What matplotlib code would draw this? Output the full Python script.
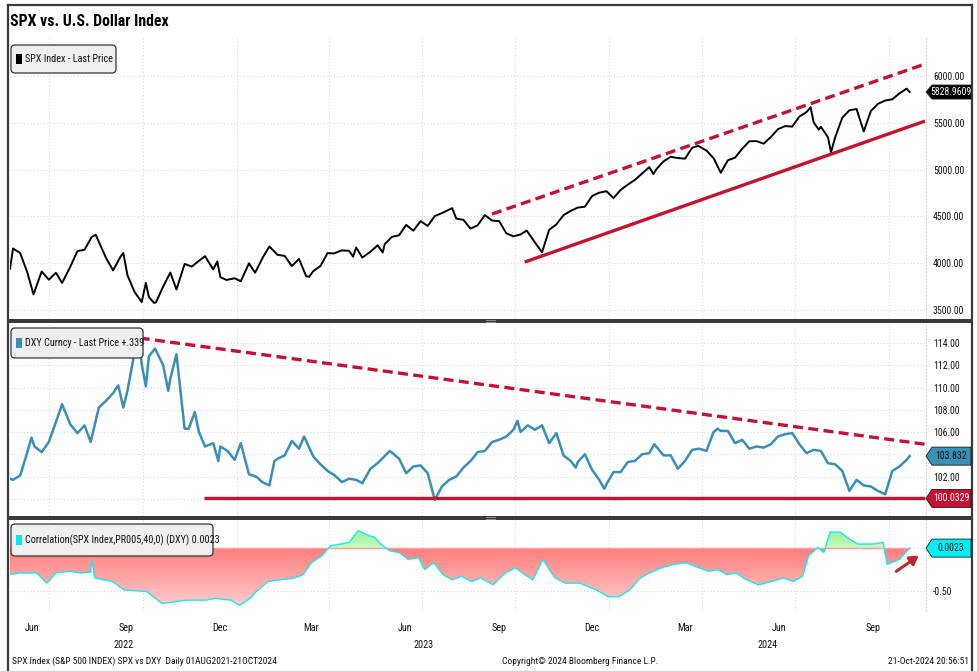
import numpy as np
import matplotlib
matplotlib.use("Agg")
import matplotlib.pyplot as plt
import matplotlib.dates as mdates
from matplotlib import font_manager as fm
from matplotlib.patches import Polygon, FancyBboxPatch, Rectangle, FancyArrowPatch
from matplotlib.path import Path
from matplotlib.lines import Line2D
from matplotlib.colors import LinearSegmentedColormap
from matplotlib.transforms import IdentityTransform, blended_transform_factory

# ---------------------------------------------------------------- data
spx_dates = [
    "2022-05-24", "2022-05-27", "2022-06-03", "2022-06-10", "2022-06-16", "2022-06-24",
    "2022-07-01", "2022-07-08", "2022-07-14", "2022-07-22", "2022-07-29", "2022-08-05",
    "2022-08-12", "2022-08-16", "2022-08-19", "2022-08-26", "2022-09-02", "2022-09-09",
    "2022-09-12", "2022-09-16", "2022-09-23", "2022-09-30", "2022-10-04", "2022-10-07",
    "2022-10-12", "2022-10-14", "2022-10-21", "2022-10-28", "2022-11-03", "2022-11-11",
    "2022-11-18", "2022-11-25", "2022-12-01", "2022-12-09", "2022-12-13", "2022-12-16",
    "2022-12-22", "2022-12-30", "2023-01-05", "2023-01-13", "2023-01-19", "2023-01-27",
    "2023-02-02", "2023-02-10", "2023-02-17", "2023-02-24", "2023-03-03", "2023-03-10",
    "2023-03-13", "2023-03-17", "2023-03-24", "2023-03-31", "2023-04-06", "2023-04-14",
    "2023-04-21", "2023-04-25", "2023-04-28", "2023-05-04", "2023-05-12", "2023-05-19",
    "2023-05-24", "2023-05-26", "2023-06-02", "2023-06-09", "2023-06-16", "2023-06-23",
    "2023-06-30", "2023-07-07", "2023-07-14", "2023-07-21", "2023-07-31", "2023-08-04",
    "2023-08-11", "2023-08-18", "2023-08-25", "2023-09-01", "2023-09-08", "2023-09-15",
    "2023-09-22", "2023-09-29", "2023-10-06", "2023-10-12", "2023-10-20", "2023-10-27",
    "2023-11-03", "2023-11-10", "2023-11-17", "2023-11-24", "2023-12-01", "2023-12-08",
    "2023-12-15", "2023-12-22", "2023-12-29", "2024-01-05", "2024-01-12", "2024-01-19",
    "2024-01-26", "2024-02-02", "2024-02-09", "2024-02-13", "2024-02-16", "2024-02-23",
    "2024-03-01", "2024-03-08", "2024-03-15", "2024-03-22", "2024-03-28", "2024-04-05",
    "2024-04-12", "2024-04-19", "2024-04-26", "2024-05-03", "2024-05-10", "2024-05-17",
    "2024-05-24", "2024-05-31", "2024-06-07", "2024-06-14", "2024-06-21", "2024-06-28",
    "2024-07-05", "2024-07-12", "2024-07-16", "2024-07-19", "2024-07-24", "2024-07-26",
    "2024-08-02", "2024-08-05", "2024-08-09", "2024-08-16", "2024-08-23", "2024-08-30",
    "2024-09-06", "2024-09-13", "2024-09-20", "2024-09-27", "2024-10-04", "2024-10-11",
    "2024-10-18", "2024-10-21",
]
spx_values = [
    3941, 4158, 4109, 3901, 3667, 3912,
    3825, 3899, 3790, 3962, 4130, 4145,
    4280, 4305, 4228, 4058, 3924, 4067,
    4110, 3873, 3693, 3586, 3791, 3640,
    3577, 3583, 3752, 3901, 3720, 3993,
    3965, 4026, 4076, 3934, 4019, 3852,
    3822, 3840, 3808, 3999, 3899, 4071,
    4180, 4090, 4079, 3970, 4046, 3862,
    3855, 3917, 3971, 4109, 4105, 4138,
    4133, 4071, 4169, 4061, 4124, 4192,
    4116, 4205, 4282, 4299, 4410, 4348,
    4450, 4399, 4505, 4536, 4589, 4478,
    4464, 4370, 4406, 4515, 4457, 4450,
    4320, 4288, 4308, 4349, 4224, 4117,
    4358, 4415, 4514, 4559, 4595, 4604,
    4719, 4754, 4770, 4697, 4784, 4840,
    4891, 4959, 5027, 4953, 5005, 5089,
    5137, 5124, 5117, 5234, 5254, 5204,
    5123, 4967, 5100, 5128, 5223, 5303,
    5305, 5278, 5347, 5432, 5465, 5460,
    5567, 5615, 5667, 5505, 5427, 5459,
    5346, 5186, 5344, 5554, 5634, 5648,
    5408, 5626, 5703, 5738, 5751, 5815,
    5865, 5828.9609,
]

dxy_dates = [
    "2022-05-24", "2022-05-27", "2022-06-03", "2022-06-10", "2022-06-14", "2022-06-17",
    "2022-06-24", "2022-07-01", "2022-07-08", "2022-07-14", "2022-07-22", "2022-07-29",
    "2022-08-05", "2022-08-11", "2022-08-19", "2022-08-26", "2022-09-02", "2022-09-07",
    "2022-09-12", "2022-09-16", "2022-09-23", "2022-09-27", "2022-09-30", "2022-10-04",
    "2022-10-07", "2022-10-13", "2022-10-21", "2022-10-26", "2022-10-28", "2022-11-03",
    "2022-11-11", "2022-11-15", "2022-11-21", "2022-11-25", "2022-12-01", "2022-12-09",
    "2022-12-14", "2022-12-16", "2022-12-23", "2022-12-30", "2023-01-05", "2023-01-13",
    "2023-01-20", "2023-01-26", "2023-02-02", "2023-02-07", "2023-02-10", "2023-02-17",
    "2023-02-24", "2023-03-03", "2023-03-08", "2023-03-17", "2023-03-24", "2023-03-31",
    "2023-04-07", "2023-04-14", "2023-04-21", "2023-04-28", "2023-05-04", "2023-05-12",
    "2023-05-19", "2023-05-31", "2023-06-09", "2023-06-16", "2023-06-23", "2023-06-30",
    "2023-07-07", "2023-07-14", "2023-07-21", "2023-07-28", "2023-08-04", "2023-08-11",
    "2023-08-18", "2023-08-25", "2023-09-01", "2023-09-08", "2023-09-15", "2023-09-22",
    "2023-09-29", "2023-10-03", "2023-10-06", "2023-10-13", "2023-10-20", "2023-10-27",
    "2023-11-03", "2023-11-10", "2023-11-17", "2023-11-24", "2023-11-29", "2023-12-01",
    "2023-12-08", "2023-12-15", "2023-12-22", "2023-12-27", "2023-12-29", "2024-01-05",
    "2024-01-12", "2024-01-19", "2024-01-26", "2024-02-02", "2024-02-09", "2024-02-14",
    "2024-02-23", "2024-03-01", "2024-03-08", "2024-03-15", "2024-03-22", "2024-03-29",
    "2024-04-05", "2024-04-12", "2024-04-16", "2024-04-19", "2024-04-26", "2024-05-03",
    "2024-05-10", "2024-05-17", "2024-05-24", "2024-05-31", "2024-06-07", "2024-06-14",
    "2024-06-21", "2024-06-28", "2024-07-05", "2024-07-12", "2024-07-19", "2024-07-26",
    "2024-08-02", "2024-08-09", "2024-08-16", "2024-08-23", "2024-08-30", "2024-09-06",
    "2024-09-13", "2024-09-20", "2024-09-27", "2024-10-04", "2024-10-11", "2024-10-18",
    "2024-10-21",
]
dxy_values = [
    101.8, 101.7, 102.1, 104.2, 105.5, 104.7,
    104.2, 105.1, 106.9, 108.5, 106.7, 105.9,
    106.6, 105.1, 108.2, 108.8, 109.5, 110.2,
    108.2, 109.7, 113.2, 114.4, 112.1, 110.1,
    112.8, 113.5, 112.0, 109.7, 110.8, 113.0,
    106.3, 106.3, 107.8, 106.0, 104.7, 105.0,
    103.4, 104.7, 104.3, 103.5, 105.0, 102.2,
    102.0, 101.5, 101.2, 103.4, 103.6, 103.9,
    105.2, 104.5, 105.6, 103.8, 103.1, 102.5,
    102.1, 101.5, 101.8, 101.7, 101.4, 102.7,
    103.2, 104.3, 103.6, 102.3, 102.9, 103.0,
    102.3, 99.9, 101.1, 101.7, 102.0, 102.8,
    103.4, 104.2, 104.3, 105.1, 105.3, 105.6,
    106.2, 107.0, 106.0, 106.6, 106.2, 106.6,
    105.0, 105.9, 103.9, 103.4, 102.8, 103.3,
    104.0, 102.6, 101.7, 100.9, 101.3, 102.4,
    102.4, 103.3, 103.4, 104.0, 104.1, 104.9,
    103.9, 103.9, 102.7, 103.4, 104.4, 104.5,
    104.3, 106.0, 106.3, 106.1, 106.1, 105.0,
    105.3, 104.5, 104.7, 104.6, 104.9, 105.6,
    105.8, 105.9, 104.9, 104.1, 104.4, 104.3,
    103.2, 103.1, 102.5, 100.7, 101.7, 101.2,
    101.1, 100.7, 100.4, 102.5, 102.9, 103.5,
    103.832,
]

corr_dates = [
    "2022-05-23", "2022-06-02", "2022-06-19", "2022-06-29", "2022-07-08", "2022-07-21",
    "2022-08-01", "2022-08-11", "2022-08-12", "2022-08-15", "2022-09-01", "2022-09-13",
    "2022-10-05", "2022-10-20", "2022-11-01", "2022-11-13", "2022-12-02", "2022-12-11",
    "2022-12-26", "2023-01-04", "2023-01-14", "2023-01-20", "2023-02-01", "2023-02-13",
    "2023-02-26", "2023-03-07", "2023-03-15", "2023-03-25", "2023-04-03", "2023-04-13",
    "2023-04-21", "2023-04-30", "2023-05-10", "2023-05-16", "2023-05-22", "2023-05-31",
    "2023-06-09", "2023-06-18", "2023-06-28", "2023-07-04", "2023-07-13", "2023-07-22",
    "2023-07-31", "2023-08-09", "2023-08-19", "2023-08-28", "2023-09-09", "2023-09-21",
    "2023-10-01", "2023-10-10", "2023-10-18", "2023-10-28", "2023-11-03", "2023-11-09",
    "2023-11-19", "2023-12-03", "2023-12-19", "2023-12-31", "2024-01-10", "2024-01-21",
    "2024-01-31", "2024-02-09", "2024-02-21", "2024-03-04", "2024-03-16", "2024-03-29",
    "2024-04-07", "2024-04-16", "2024-04-25", "2024-05-04", "2024-05-14", "2024-05-26",
    "2024-06-08", "2024-06-19", "2024-06-29", "2024-07-08", "2024-07-14", "2024-07-23",
    "2024-07-29", "2024-08-04", "2024-08-14", "2024-08-23", "2024-08-31", "2024-09-16",
    "2024-09-25", "2024-09-29", "2024-10-11", "2024-10-21",
]
corr_values = [
    -0.31, -0.29, -0.29, -0.41, -0.29, -0.27,
    -0.29, -0.28, -0.13, -0.35, -0.39, -0.49,
    -0.51, -0.65, -0.63, -0.61, -0.61, -0.59,
    -0.61, -0.67, -0.59, -0.51, -0.39, -0.37,
    -0.35, -0.31, -0.17, -0.09, 0.03, 0.05,
    0.07, 0.21, 0.15, 0.13, 0.05, -0.03,
    -0.05, -0.13, -0.11, -0.25, -0.17, -0.31,
    -0.37, -0.33, -0.39, -0.35, -0.43, -0.29,
    -0.23, -0.31, -0.37, -0.13, -0.25, -0.35,
    -0.41, -0.41, -0.49, -0.57, -0.57, -0.49,
    -0.35, -0.29, -0.23, -0.19, -0.17, -0.23,
    -0.27, -0.25, -0.31, -0.29, -0.37, -0.43,
    -0.39, -0.35, -0.39, -0.33, -0.09, 0.01,
    -0.05, 0.19, 0.19, 0.11, 0.05, 0.05,
    0.07, -0.19, -0.13, 0.0023,
]

# hand-drawn trend channels
spx_upper_dates = ["2023-09-08", "2024-11-05"]
spx_upper_values = [4526, 6128]
spx_lower_dates = ["2023-10-10", "2024-11-05"]
spx_lower_values = [4013, 5519]
dxy_upper_dates = ["2022-09-28", "2024-11-05"]
dxy_upper_values = [114.45, 104.9]
dxy_support_dates = ["2022-11-30", "2024-11-05"]
dxy_support_values = [100.0329, 100.0329]

spx_ticks = [3500, 4000, 4500, 5000, 5500, 6000]
dxy_ticks = [100, 102, 104, 106, 108, 110, 112, 114]
dxy_hidden = [100, 104]
corr_ticks = [-0.5, 0.0]
month_labels = [("2022-06-15", "Jun"), ("2022-09-15", "Sep"), ("2022-12-15", "Dec"),
                ("2023-03-15", "Mar"), ("2023-06-15", "Jun"), ("2023-09-15", "Sep"),
                ("2023-12-15", "Dec"), ("2024-03-15", "Mar"), ("2024-06-15", "Jun"),
                ("2024-09-15", "Sep")]
grid_dates = ["2022-07-01", "2022-10-01", "2023-01-01", "2023-04-01", "2023-07-01",
              "2023-10-01", "2024-01-01", "2024-04-01", "2024-07-01", "2024-10-01"]
view_start, view_end = "2022-05-24", "2024-11-06"


# ---------------------------------------------------------------- fonts
def narrow_font(bold):
    """Pick an installed narrow sans face; None when there is none."""
    prefs = ["liberation sans narrow", "arial narrow", "roboto condensed",
             "open sans condensed", "noto sans", "dejavu sans", "roboto", "open sans"]
    target = 700 if bold else 400
    best, best_key = None, None
    for f in fm.fontManager.ttflist:
        path = f.fname.lower()
        base = path.rsplit("/", 1)[-1]
        stretch = str(f.stretch).lower()
        narrow = ("narrow" in base or "condensed" in base
                  or stretch in ("condensed", "semi-condensed", "extra-condensed"))
        if not narrow or "mono" in base or "italic" in base or "oblique" in base:
            continue
        name = f.name.lower()
        rank = next((i for i, p in enumerate(prefs) if name.startswith(p)), None)
        if rank is None:
            continue
        w = f.weight
        if not isinstance(w, (int, float)):
            w = {"bold": 700, "normal": 400, "regular": 400, "medium": 500}.get(str(w).lower(), 400)
        squeeze = 0 if ("semi" not in base and "extra" not in base and "ultra" not in base) else 1
        key = (rank, abs(w - target), squeeze)
        if best_key is None or key < best_key:
            best, best_key = f.fname, key
    return best


reg_file, bold_file = narrow_font(False), narrow_font(True)
if reg_file:
    FP = fm.FontProperties(fname=reg_file)
    SCALE = 1.0
else:
    FP = fm.FontProperties(family=["Liberation Sans", "DejaVu Sans"])
    SCALE = 0.86
if bold_file:
    FPB = fm.FontProperties(fname=bold_file)
else:
    FPB = fm.FontProperties(family=["Liberation Sans", "DejaVu Sans"], weight="bold")


def font(size, bold=False):
    p = (FPB if bold else FP).copy()
    p.set_size(size * SCALE)
    return p


RED = "#c41230"
TEAL = "#3a8fb5"
CYAN = "#18e8f0"
GRID = "#d9d9d9"
FRAME = "#3a3a3a"

W, H = 977, 671
fig = plt.figure(figsize=(W / 100, H / 100), dpi=100)
PX = IdentityTransform()


def fy(y):
    return H - y


def dn(seq):
    return mdates.date2num(np.array(seq, dtype="datetime64[D]"))


def px_axes(x0, y0, x1, y1):
    return fig.add_axes([x0 / W, 1 - y1 / H, (x1 - x0) / W, (y1 - y0) / H])


PLOT_L, PLOT_R = 10, 926
ax1 = px_axes(PLOT_L, 38, PLOT_R, 319)
ax2 = px_axes(PLOT_L, 323, PLOT_R, 516)
ax3 = px_axes(PLOT_L, 520, PLOT_R, 611)

xlim = (dn([view_start])[0], dn([view_end])[0])

for ax in (ax1, ax2, ax3):
    ax.set_facecolor("white")
    for s in ("top", "left", "bottom"):
        ax.spines[s].set_visible(False)
    ax.spines["right"].set_color(GRID)
    ax.spines["right"].set_linestyle((0, (1, 2)))
    ax.spines["right"].set_linewidth(0.8)
    ax.set_xticks(dn(grid_dates))
    ax.tick_params(axis="x", length=0, labelbottom=False)
    ax.tick_params(axis="y", left=False, labelleft=False, right=True, labelright=True,
                   length=0, pad=5, labelcolor="#111111")
    ax.grid(True, color=GRID, linestyle=(0, (1, 2)), linewidth=0.8)
    ax.set_axisbelow(True)

# ---------------------------------------------------------------- SPX panel
ax1.plot(dn(spx_dates), spx_values, color="black", lw=1.4, zorder=3)
ax1.plot(dn(spx_upper_dates), spx_upper_values, color=RED, lw=2.4,
         dashes=(3, 1.6), zorder=4)
ax1.plot(dn(spx_lower_dates), spx_lower_values, color=RED, lw=2.4,
         solid_capstyle="butt", zorder=4)
ax1.set_xlim(*xlim)
ax1.set_ylim(3405, 6406)
ax1.set_yticks(spx_ticks)
ax1.set_yticklabels([f"{v:.2f}" for v in spx_ticks])

# ---------------------------------------------------------------- DXY panel
ax2.plot(dn(dxy_dates), dxy_values, color=TEAL, lw=1.8, zorder=3)
ax2.plot(dn(dxy_upper_dates), dxy_upper_values, color=RED, lw=2.4,
         dashes=(3, 1.6), zorder=4)
ax2.plot(dn(dxy_support_dates), dxy_support_values, color=RED, lw=2.4,
         solid_capstyle="butt", zorder=4)
ax2.set_xlim(*xlim)
ax2.set_ylim(98.45, 115.8)
ax2.set_yticks(dxy_ticks)
ax2.set_yticklabels(["" if v in dxy_hidden else f"{v:.2f}" for v in dxy_ticks])

# ---------------------------------------------------------------- correlation panel
cx = dn(corr_dates)
cy = np.array(corr_values)
ylo, yhi = -0.738, 0.333
neg = ax3.fill_between(cx, cy, 0, where=cy <= 0, interpolate=True,
                       facecolor="none", edgecolor="none")
pos = ax3.fill_between(cx, cy, 0, where=cy >= 0, interpolate=True,
                       facecolor="none", edgecolor="none")
grad = np.linspace(0, 1, 256).reshape(-1, 1)
neg_cmap = LinearSegmentedColormap.from_list("neg", ["#ff7e7e", "#ffd2d2"])
pos_cmap = LinearSegmentedColormap.from_list("pos", ["#7cf07c", "#c9f9c2"])
im_neg = ax3.imshow(grad, aspect="auto", cmap=neg_cmap, origin="upper",
                    extent=[cx[0], cx[-1], ylo, 0], zorder=2)
im_neg.set_clip_path(Path.make_compound_path(*neg.get_paths()), transform=ax3.transData)
im_pos = ax3.imshow(grad, aspect="auto", cmap=pos_cmap, origin="upper",
                    extent=[cx[0], cx[-1], 0, yhi], zorder=2)
im_pos.set_clip_path(Path.make_compound_path(*pos.get_paths()), transform=ax3.transData)
ax3.plot([cx[0], cx[-1]], [0, 0], color="#ff9c9c", lw=1.0, zorder=3)
ax3.plot(cx, cy, color=CYAN, lw=1.0, zorder=4)
ax3.set_xlim(*xlim)
ax3.set_ylim(ylo, yhi)
ax3.set_yticks(corr_ticks)
ax3.set_yticklabels(["-0.50", ""])

for ax in (ax1, ax2, ax3):
    for lab in ax.get_yticklabels():
        lab.set_fontproperties(font(7.0))

# ---------------------------------------------------------------- frame & separators
fig.add_artist(Line2D([8, 8], [fy(5), fy(671)], color=FRAME, lw=1.6, transform=PX))
fig.add_artist(Line2D([972, 972], [fy(5), fy(671)], color=FRAME, lw=1.6, transform=PX))
fig.add_artist(Line2D([8, 972], [fy(5), fy(5)], color=FRAME, lw=1.6, transform=PX))
for ytop in (319, 516):
    fig.add_artist(Rectangle((8, fy(ytop + 4)), 964, 4, facecolor=FRAME,
                             edgecolor="none", transform=PX))
    for dy in (1.3, 2.7):
        fig.add_artist(Line2D([486, 495], [fy(ytop + dy)] * 2, color="#9a9a9a",
                              lw=0.6, transform=PX))

fig.text(10, fy(22), "SPX vs. U.S. Dollar Index", transform=PX, ha="left",
         va="center", fontproperties=font(11.3, bold=True), color="black")


# ---------------------------------------------------------------- legend boxes
def legend_box(x0, y0, x1, y1, swatch, label):
    fig.add_artist(FancyBboxPatch((x0, fy(y1)), x1 - x0, y1 - y0,
                                  boxstyle="round,pad=0,rounding_size=4",
                                  facecolor="#efefef", edgecolor="#333333", lw=0.9,
                                  transform=PX, zorder=5))
    yc = (y0 + y1) / 2
    fig.add_artist(Rectangle((x0 + 5, fy(yc + 5)), 6, 10, facecolor=swatch,
                             edgecolor="none", transform=PX, zorder=6))
    fig.text(x0 + 14, fy(yc), label, transform=PX, ha="left", va="center",
             fontproperties=font(7.3), color="#111111", zorder=7)


legend_box(11, 45, 116, 73, "black", "SPX Index - Last Price")
legend_box(11, 328, 143, 358, TEAL, "DXY Curncy - Last Price +.339")
legend_box(11, 524, 213, 556, "#00e8f0", "Correlation(SPX Index,PR005,40,0) (DXY) 0.0023")


# ---------------------------------------------------------------- value tags
def value_tag(ax, value, text, face, tcolor, half=8):
    yc = ax.transData.transform((xlim[0], value))[1]
    x0, x1, tip = 926, 971, 6
    pts = [(x0, yc), (x0 + tip, yc + half), (x1, yc + half), (x1, yc - half),
           (x0 + tip, yc - half)]
    fig.add_artist(Polygon(pts, closed=True, facecolor=face, edgecolor="#1a1a1a",
                           lw=0.6, transform=PX, zorder=6))
    fig.text((x0 + tip + x1) / 2 - 0.5, yc, text, transform=PX, ha="center",
             va="center", fontproperties=font(7.0), color=tcolor, zorder=7)


value_tag(ax1, spx_values[-1], f"{spx_values[-1]:.4f}", "black", "white", half=7)
value_tag(ax2, dxy_values[-1], f"{dxy_values[-1]:.3f}", TEAL, "#111111", half=9)
value_tag(ax2, dxy_support_values[0], f"{dxy_support_values[0]:.4f}", RED, "white", half=9)
value_tag(ax3, corr_values[-1], f"{corr_values[-1]:.4f}", "#00f0f8", "#111111", half=9)

# red arrow pointing at the latest correlation reading
fig.add_artist(FancyArrowPatch((894, fy(573)), (921, fy(554)), transform=PX,
                               arrowstyle="-|>,head_length=5,head_width=3",
                               color="#c0282d", lw=2.2, zorder=6))

# ---------------------------------------------------------------- time axis labels
xt = blended_transform_factory(ax3.transData, PX)
for d, lab in month_labels:
    fig.text(dn([d])[0], fy(628), lab, transform=xt, ha="center", va="center",
             fontproperties=font(7.3), color="#111111")
year_spans = [("2022", view_start, "2023-01-01"), ("2023", "2023-01-01", "2024-01-01"),
              ("2024", "2024-01-01", view_end)]
for lab, a, b in year_spans:
    xa, xb = dn([a, b])
    fig.text((xa + xb) / 2, fy(645), lab, transform=xt, ha="center", va="center",
             fontproperties=font(7.3), color="#111111")

fig.text(12, fy(661), "SPX Index (S&P 500 INDEX) SPX vs DXY  Daily 01AUG2021-21OCT2024",
         transform=PX, ha="left", va="center", fontproperties=font(6.8), color="#111111")
fig.text(580, fy(661), "Copyright\u00a9 2024 Bloomberg Finance L.P.", transform=PX,
         ha="center", va="center", fontproperties=font(6.8), color="#111111")
fig.text(969, fy(661), "21-Oct-2024 20:56:51", transform=PX, ha="right",
         va="center", fontproperties=font(6.8), color="#111111")

fig.savefig("out.png", dpi=100)
